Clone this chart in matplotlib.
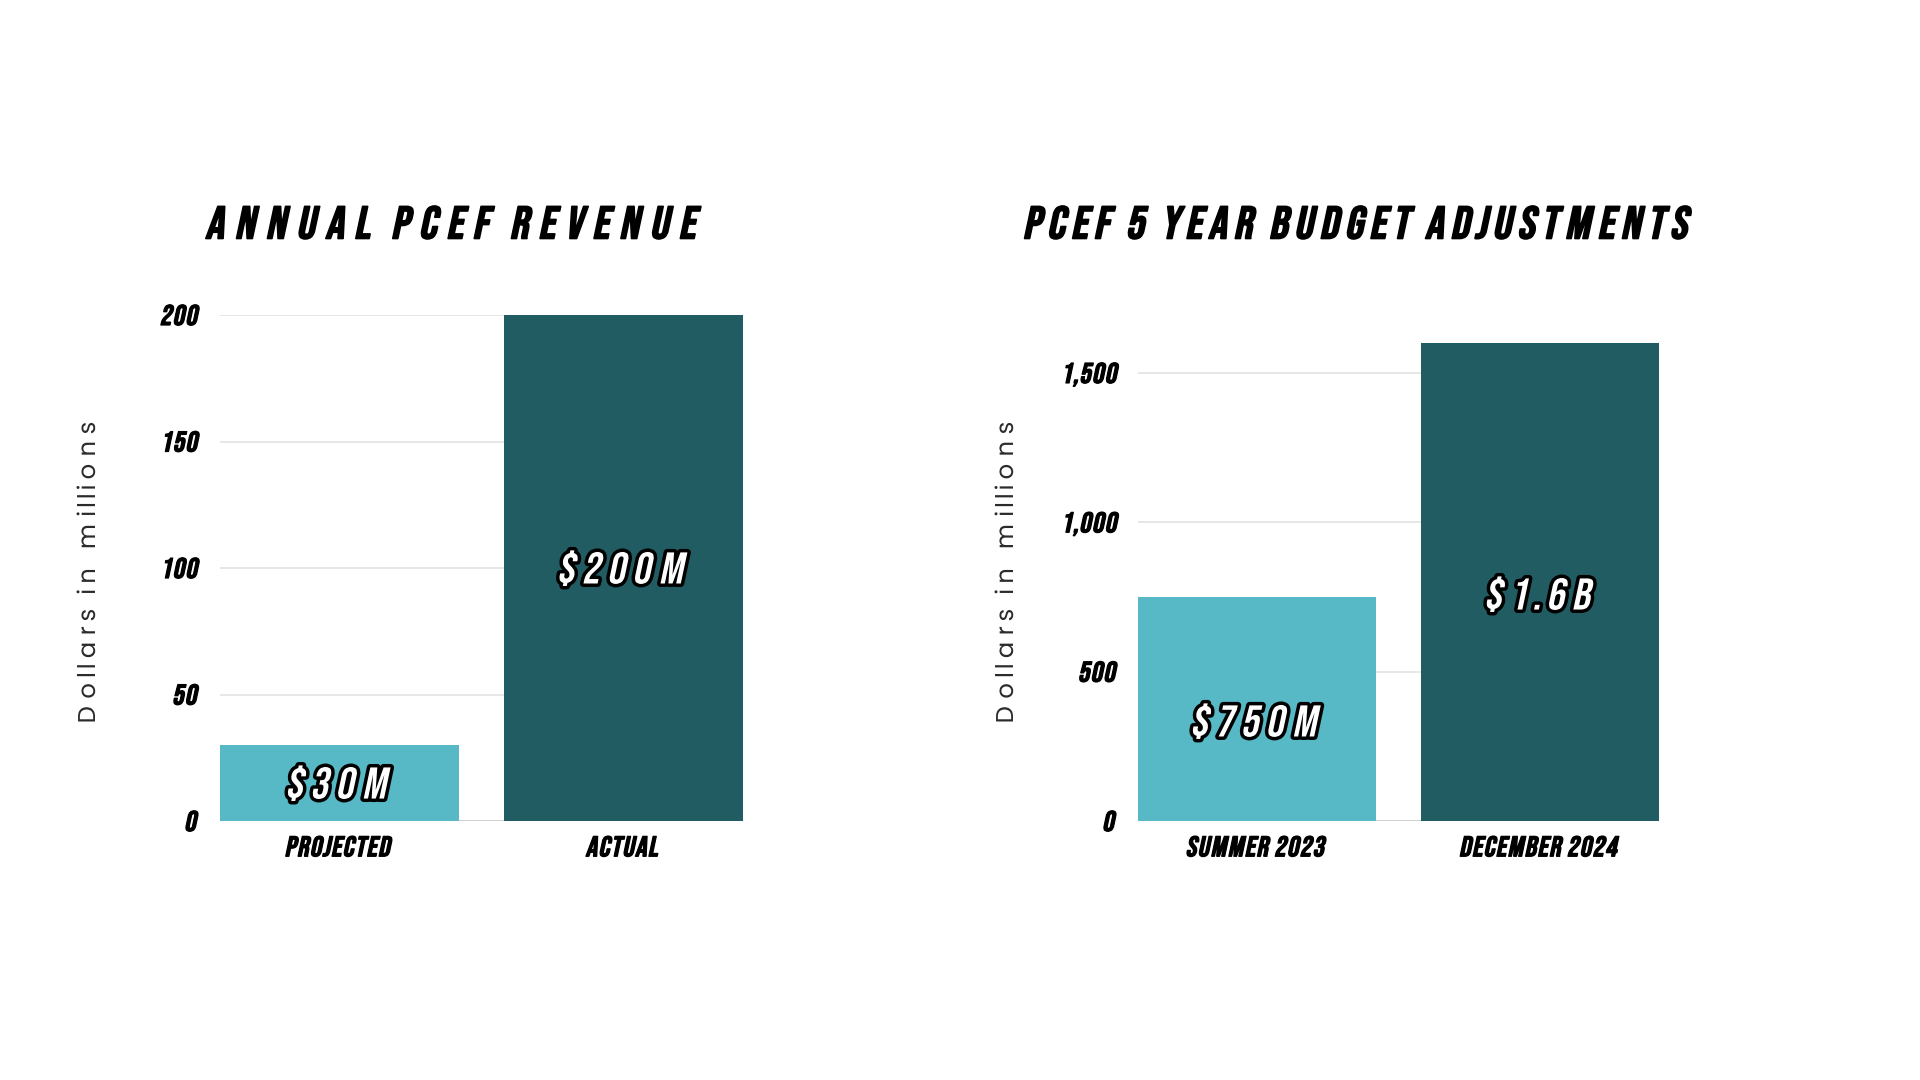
import numpy as np
import matplotlib
matplotlib.use("Agg")
import matplotlib.pyplot as plt
from matplotlib.patheffects import AbstractPathEffect, Normal, Stroke
from matplotlib.path import Path
from matplotlib.ticker import FuncFormatter
from matplotlib.transforms import offset_copy

# ---------------- data ----------------
rev_categories = ["PROJECTED", "ACTUAL"]
rev_values = [30, 200]
rev_labels = ["$30M", "$200M"]
rev_ticks = [0, 50, 100, 150, 200]

bud_categories = ["SUMMER 2023", "DECEMBER 2024"]
bud_values = [750, 1600]
bud_labels = ["$750M", "$1.6B"]
bud_ticks = [0, 500, 1000, 1500]

titles = ["ANNUAL PCEF REVENUE", "PCEF 5 YEAR BUDGET ADJUSTMENTS"]
ylabel = "Dollars in millions"

LIGHT = "#56B9C5"
DARK = "#215C63"
GRID = "#e3e3e3"
BASE = "#cfcfcf"


class Styled(AbstractPathEffect):
    """Slant (faux italic) and letter-spacing for a text path, then draw inner effects."""

    def __init__(self, skew=0.0, track=1.0, inner=None):
        super().__init__()
        self.skew = np.tan(np.radians(skew))
        self.track = track
        self.inner = inner if inner is not None else [Normal()]

    def draw_path(self, renderer, gc, tpath, affine, rgbFace=None):
        verts = np.array(tpath.vertices, dtype=float)
        codes = tpath.codes
        if codes is not None and len(verts):
            valid = codes != Path.CLOSEPOLY
            if valid.any():
                xs = verts[valid, 0]
                ys = verts[valid, 1]
                mid = (xs.min() + xs.max()) / 2
                ymid = (ys.min() + ys.max()) / 2
                if self.track != 1.0:
                    starts = np.flatnonzero(codes == Path.MOVETO)
                    ends = np.append(starts[1:], len(verts))
                    for s, e in zip(starts, ends):
                        m = valid[s:e]
                        seg = verts[s:e, 0][m]
                        if len(seg) == 0:
                            continue
                        cx = (seg.min() + seg.max()) / 2
                        verts[s:e, 0] += (self.track - 1) * (cx - mid)
                if self.skew:
                    verts[:, 0] += self.skew * (verts[:, 1] - ymid)
            tpath = Path(verts, codes)
        for pe in self.inner:
            pe.draw_path(renderer, gc, tpath, affine, rgbFace)


def bold(lw):
    return [Stroke(linewidth=lw, foreground="black"), Normal()]


W, H = 1920, 1080
fig = plt.figure(figsize=(19.2, 10.8), dpi=100)
fig.patch.set_facecolor("white")

SKEW = 12


def px(x, y):
    return x / W, 1 - y / H


def make_panel(rect, cats, vals, labels, ticks, ymax, title, title_x, title_track,
               label_size, label_dy, ylab_x):
    ax = fig.add_axes(rect)
    x = np.arange(len(cats))
    ax.set_xlim(-0.42, len(cats) - 0.58)
    ax.set_ylim(0, ymax)
    for t in ticks[1:]:
        ax.axhline(t, color=GRID, lw=1.2, zorder=0)
    ax.axhline(0, color=BASE, lw=1.4, zorder=0)
    ax.bar(x, vals, width=0.84, color=[LIGHT, DARK], zorder=2)
    ltrans = offset_copy(ax.transData, fig=fig, x=0, y=label_dy, units="dots")
    for xi, v, lab in zip(x, vals, labels):
        ax.text(xi, v / 2, lab, ha="center", va="center", color="white",
                family="Bebas Neue", fontsize=label_size, zorder=3, transform=ltrans,
                path_effects=[Styled(skew=SKEW, track=1.42,
                                     inner=[Stroke(linewidth=5.0, foreground="black"), Normal()])])
    for s in ax.spines.values():
        s.set_visible(False)
    ax.set_yticks(ticks)
    ax.yaxis.set_major_formatter(FuncFormatter(lambda v, p: f"{v:,.0f}"))
    ax.set_xticks(x, cats)
    ax.tick_params(axis="both", length=0, labelsize=20.5, labelcolor="black")
    ax.tick_params(axis="y", pad=16)
    ax.tick_params(axis="x", pad=11)
    for lab in ax.get_xticklabels() + ax.get_yticklabels():
        lab.set_family("Bebas Neue")
        lab.set_path_effects([Styled(skew=SKEW, track=1.12, inner=bold(0.9))])
    fig.text(*px(title_x, 222), title, ha="center", va="center",
             family="Bebas Neue", fontsize=33, color="black",
             path_effects=[Styled(skew=SKEW, track=title_track, inner=bold(1.2))])
    fig.text(*px(ylab_x, 573), ylabel, rotation=90, ha="center", va="center",
             family="Poppins", fontsize=17.5, color="#2b2b2b", weight=400,
             path_effects=[Styled(track=1.47)])
    return ax


axL = make_panel([220 / W, 1 - 821 / H, 523 / W, 506 / H], rev_categories, rev_values,
                 rev_labels, rev_ticks, 200, titles[0], 453, 1.58, 32, 0, 89)
axR = make_panel([1138 / W, 1 - 821 / H, 521 / W, 506 / H], bud_categories, bud_values,
                 bud_labels, bud_ticks, 1694, titles[1], 1358, 1.37, 32, -12, 1007)

fig.savefig("out.png", dpi=100, facecolor="white")
